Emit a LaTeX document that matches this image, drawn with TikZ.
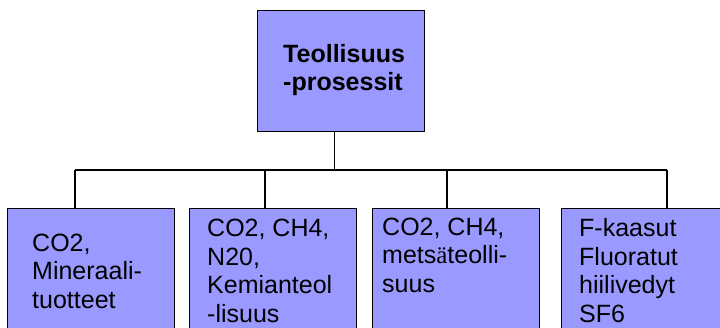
\documentclass[tikz,border=0pt]{standalone}
\usepackage{fontspec}
\setmainfont{Liberation Sans}
\newfontfamily\serifum{Liberation Serif}
\usetikzlibrary{positioning, calc}
\definecolor{boxblue}{RGB}{153, 153, 255}

\begin{document}
\begin{tikzpicture}[
    x=1pt, y=-1pt,
    box/.style={rectangle, draw=black, fill=boxblue, line width=1.4pt,
                minimum width=167pt, minimum height=160pt, inner sep=0pt, anchor=north west},
    conn/.style={line width=1.4pt, black},
    txt/.style={anchor=base west, align=left, inner sep=0pt,
                font=\fontsize{25}{28.5}\selectfont}
]
\useasboundingbox (0,0) rectangle (720,327);
\clip (0,0) rectangle (720,327);

% Top box
\node[box, minimum height=121pt] (top) at (257,10) {};
\node[txt, font=\fontsize{25}{28}\selectfont\bfseries] (toptxt) at (283,90) {Teollisuus\\-prosessit};

% Lower boxes
\node[box] (min) at (7,208) {};
\node[box] (kem) at (189,208) {};
\node[box] (mets) at (372,208) {};
\node[box, minimum width=190pt] (fkaa) at (561,208) {};

% Texts (anchored at the baseline of the last line)
\node[txt] (mintxt) at (32,308) {CO2,\\Mineraali-\\tuotteet};
\node[txt] (kemtxt) at (207,322) {CO2, CH4,\\N20,\\Kemianteol\\-lisuus};
\node[txt] (metstxt) at (382,292) {CO2, CH4,\\mets{\serifum ä}teolli-\\suus};
\node[txt] (fkaatxt) at (579,322) {F-kaasut\\Fluoratut\\hiilivedyt\\SF6};

% Connectors
\coordinate (busL) at (75,170);
\coordinate (busR) at (667,170);
\coordinate (d2) at (265,170);
\coordinate (d3) at (447,170);
\draw[conn] ($(top.south)+(-7,0)$) -- ($(top.south |- busL)+(-7,0)$);
\draw[conn] (busL) -- (busR);
\draw[conn] (busL) -- (busL |- min.north);
\draw[conn] (d2) -- (d2 |- kem.north);
\draw[conn] (d3) -- (d3 |- mets.north);
\draw[conn] (busR) -- (busR |- fkaa.north);

\end{tikzpicture}
\end{document}
